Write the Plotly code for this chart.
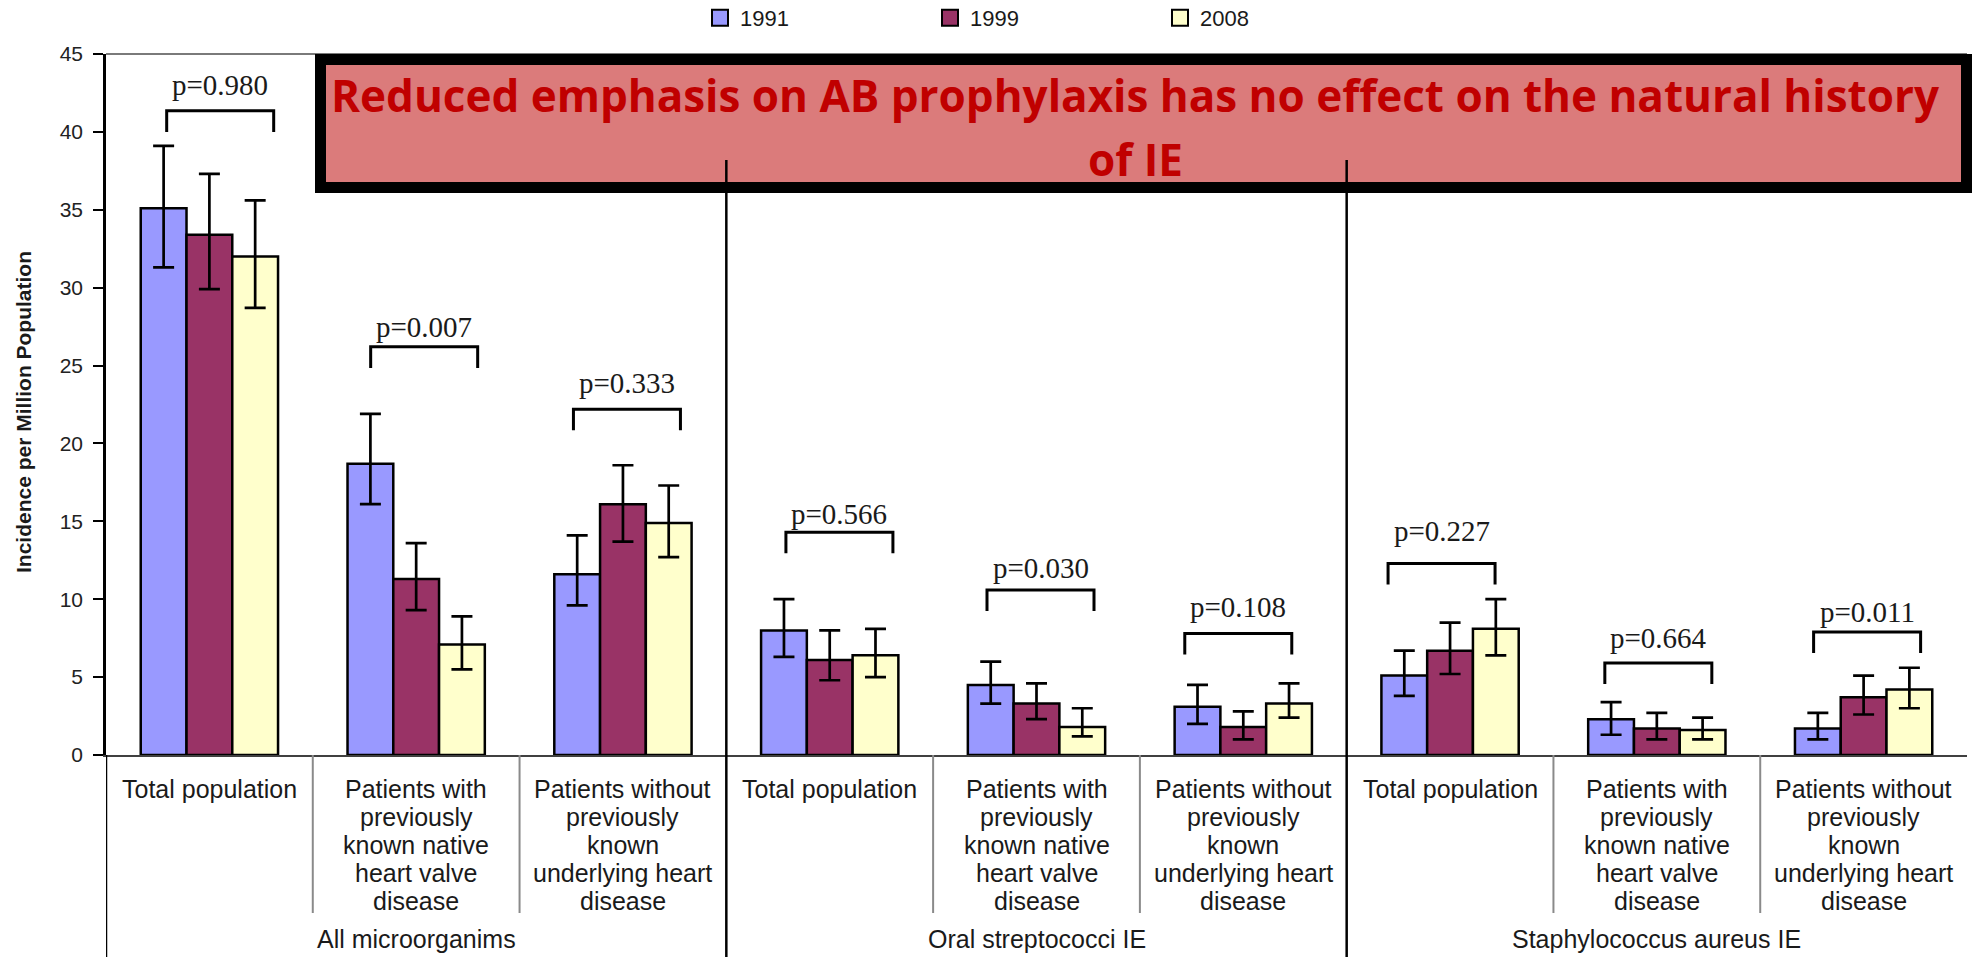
import plotly.graph_objects as go

# ---------------- data ----------------
years = ["1991", "1999", "2008"]
colors = ["#9999FF", "#993366", "#FFFFCC"]
groups = ["All microorganims", "Oral streptococci IE", "Staphylococcus aureus IE"]
subgroup_lines = [
    ["Total population"],
    ["Patients with", "previously", "known native", "heart valve", "disease"],
    ["Patients without", "previously", "known", "underlying heart", "disease"],
]
inc_1991 = [35.1, 18.7, 11.6, 8.0, 4.5, 3.1, 5.1, 2.3, 1.7]
inc_1999 = [33.4, 11.3, 16.1, 6.1, 3.3, 1.8, 6.7, 1.7, 3.7]
inc_2008 = [32.0, 7.1, 14.9, 6.4, 1.8, 3.3, 8.1, 1.6, 4.2]
hi_1991 = [39.1, 21.9, 14.1, 10.0, 6.0, 4.5, 6.7, 3.4, 2.7]
lo_1991 = [31.3, 16.1, 9.6, 6.3, 3.3, 2.0, 3.8, 1.3, 1.0]
hi_1999 = [37.3, 13.6, 18.6, 8.0, 4.6, 2.8, 8.5, 2.7, 5.1]
lo_1999 = [29.9, 9.3, 13.7, 4.8, 2.3, 1.0, 5.2, 1.0, 2.6]
hi_2008 = [35.6, 8.9, 17.3, 8.1, 3.0, 4.6, 10.0, 2.4, 5.6]
lo_2008 = [28.7, 5.5, 12.7, 5.0, 1.2, 2.4, 6.4, 1.0, 3.0]
p_values = ["p=0.980", "p=0.007", "p=0.333", "p=0.566", "p=0.030",
            "p=0.108", "p=0.227", "p=0.664", "p=0.011"]
y_ticks = [0, 5, 10, 15, 20, 25, 30, 35, 40, 45]
headline_1 = "Reduced emphasis on AB prophylaxis has no effect on the natural history"
headline_2 = "of IE"
y_title = "Incidence per Million Population"

# ---------------- layout constants ----------------
W, H = 1981, 957
ML, MR, MT, MB = 106, 14, 54, 202
PW, PH = W - ML - MR, H - MT - MB
NCAT = 9
CW = PW / NCAT
Y0 = H - MB


def px_x(px):
    return (px - ML) / PW


def px_y(py):
    return (Y0 - py) / PH


# bracket positions (layout, px offsets from category centre / data-unit heights)
bracket_y = [41.35, 26.2, 22.2, 14.3, 10.6, 7.8, 12.3, 5.9, 7.9]
ptext_y = [43.0, 27.5, 23.9, 15.5, 12.0, 9.5, 14.4, 7.5, 9.2]
bracket_left_px = [-42.7, -45.5, -49.5, -43.8, -49.5, -58.5, -62, -52, -50]
BRACKET_W_PX = 107
LEG_UNITS = 1.35

xpos = list(range(NCAT))
series = [
    (inc_1991, hi_1991, lo_1991),
    (inc_1999, hi_1999, lo_1999),
    (inc_2008, hi_2008, lo_2008),
]

fig = go.Figure()
for (vals, hi, lo), yr, col in zip(series, years, colors):
    fig.add_trace(go.Bar(
        x=xpos, y=vals, name=yr, showlegend=False,
        marker=dict(color=col, line=dict(color="black", width=2.5)),
        error_y=dict(type="data", symmetric=False,
                     array=[h - v for h, v in zip(hi, vals)],
                     arrayminus=[v - l for v, l in zip(vals, lo)],
                     color="black", thickness=2.7, width=10.5),
    ))
# legend entries
for yr, col in zip(years, colors):
    fig.add_trace(go.Scatter(
        x=[None], y=[None], mode="markers", name=yr,
        marker=dict(symbol="square", size=16, color=col,
                    line=dict(color="black", width=2)),
    ))

shapes = []
annotations = []

# top frame line
shapes.append(dict(type="line", xref="paper", yref="paper", x0=0, x1=1, y0=1, y1=1,
                   line=dict(color="#7a7a7a", width=2), layer="above"))

# brackets and p-values
for i in range(NCAT):
    xl = i + bracket_left_px[i] / CW
    xr = xl + BRACKET_W_PX / CW
    yh = bracket_y[i]
    yl = yh - LEG_UNITS
    shapes.append(dict(type="path", xref="x", yref="y",
                       path=f"M {xl},{yl} L {xl},{yh} L {xr},{yh} L {xr},{yl}",
                       line=dict(color="black", width=3)))
    annotations.append(dict(x=(xl + xr) / 2, y=ptext_y[i], xref="x", yref="y",
                            text=p_values[i], showarrow=False,
                            font=dict(family="Liberation Serif", size=29, color="#1a1a1a")))

# headline box
shapes.append(dict(type="rect", xref="paper", yref="paper",
                   x0=px_x(320.5), x1=px_x(1966.5), y0=px_y(187.5), y1=px_y(59.5),
                   fillcolor="#DB7B7B", line=dict(color="black", width=11), layer="above"))
HEAD_FONT = dict(family="Open Sans", size=44, color="#C00000", weight="bold")
annotations.append(dict(x=px_x(1135), y=px_y(95), xref="paper", yref="paper",
                        text=headline_1, showarrow=False, xanchor="center", yanchor="middle",
                        font=HEAD_FONT))
annotations.append(dict(x=px_x(1135), y=px_y(159), xref="paper", yref="paper",
                        text=headline_2, showarrow=False, xanchor="center", yanchor="middle",
                        font=HEAD_FONT))

# category table separators
for b in [0.5, 1.5, 3.5, 4.5, 6.5, 7.5]:
    shapes.append(dict(type="line", xref="x", yref="paper", x0=b, x1=b,
                       y0=0, y1=px_y(913), line=dict(color="#8a8a8a", width=2), layer="above"))
for b in [2.5, 5.5]:
    shapes.append(dict(type="line", xref="x", yref="paper", x0=b, x1=b,
                       y0=px_y(957), y1=px_y(160), line=dict(color="black", width=2.5), layer="above"))
shapes.append(dict(type="line", xref="x", yref="paper", x0=-0.5, x1=-0.5,
                   y0=px_y(957), y1=0, line=dict(color="black", width=2.5), layer="above"))

# category labels
LINE_Y = [789, 817, 845, 873, 901]
LABEL_FONT = dict(family="Liberation Sans", size=25, color="#1a1a1a")
for i in range(NCAT):
    lines = subgroup_lines[i % 3]
    for k, t in enumerate(lines):
        annotations.append(dict(x=i, y=px_y(LINE_Y[k]), xref="x", yref="paper",
                                text=t, showarrow=False, xanchor="center", yanchor="middle",
                                font=LABEL_FONT))
for g, name in enumerate(groups):
    annotations.append(dict(x=3 * g + 1, y=px_y(939), xref="x", yref="paper",
                            text=name, showarrow=False, xanchor="center", yanchor="middle",
                            font=LABEL_FONT))

# y axis title
annotations.append(dict(x=px_x(23), y=px_y(412), xref="paper", yref="paper",
                        text=y_title, showarrow=False, textangle=-90,
                        xanchor="center", yanchor="middle",
                        font=dict(family="Liberation Sans", size=21, color="#1a1a1a",
                                  weight="bold")))

fig.update_layout(
    width=W, height=H,
    margin=dict(l=ML, r=MR, t=MT, b=MB, pad=0, autoexpand=False),
    paper_bgcolor="white", plot_bgcolor="white",
    barmode="group", bargap=0.336, bargroupgap=0,
    showlegend=True,
    legend=dict(orientation="h", x=px_x(700), y=px_y(18), xanchor="left", yanchor="middle",
                font=dict(family="Liberation Sans", size=22, color="#1a1a1a"),
                itemsizing="trace", entrywidth=185, entrywidthmode="pixels",
                bgcolor="rgba(0,0,0,0)"),
    xaxis=dict(range=[-0.5, 8.5], showticklabels=False, ticks="", showgrid=False,
               zeroline=False, showline=True, linecolor="#404040", linewidth=2, fixedrange=True),
    yaxis=dict(range=[0, 45], tickvals=y_ticks, ticks="outside", ticklen=10, tickwidth=2,
               tickcolor="black", showgrid=False, zeroline=False, showline=True,
               linecolor="black", linewidth=2.5, ticklabelstandoff=6,
               tickfont=dict(family="Liberation Sans", size=21, color="#222222")),
    shapes=shapes,
    annotations=annotations,
)

fig.write_html("out.html", config={"displayModeBar": False},
               post_script="document.body.style.margin='0';")
